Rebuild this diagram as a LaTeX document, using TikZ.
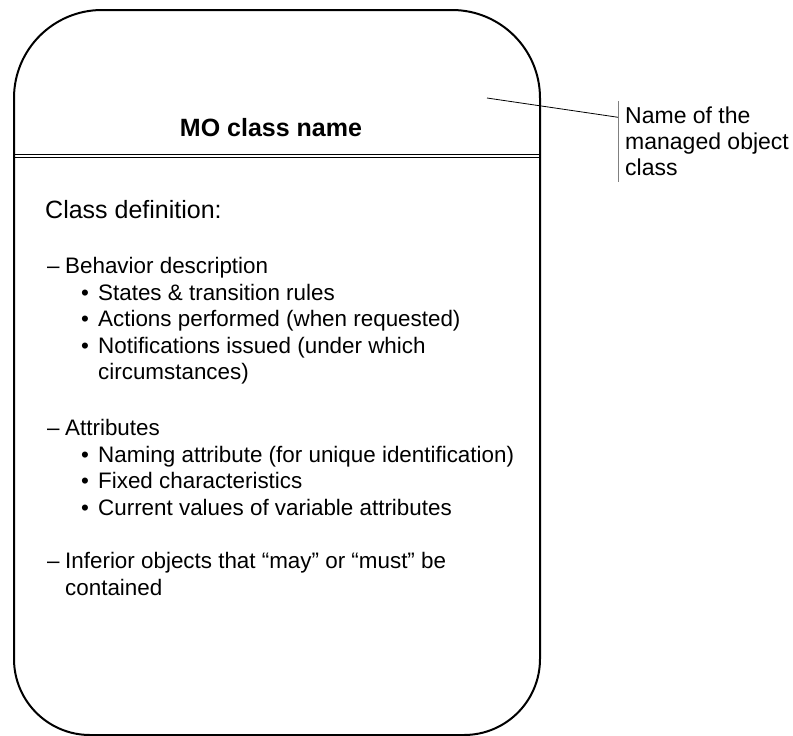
\documentclass[tikz,border=0pt]{standalone}
\usepackage{fontspec}
\setmainfont{Liberation Sans}
\usetikzlibrary{calc,positioning}

\tikzset{
  mobox/.style={line width=2pt},
  divider/.style={double, double distance=2.2pt, line width=1.2pt},
  titletext/.style={font=\fontsize{25}{30}\selectfont\bfseries, inner sep=0pt, anchor=base},
  deftext/.style={font=\fontsize{25}{30}\selectfont, inner sep=0pt, anchor=base west},
  itemtext/.style={font=\fontsize{22.4}{26.6}\selectfont, inner sep=0pt, anchor=base west},
  callouttext/.style={font=\fontsize{23}{26}\selectfont, align=left, inner xsep=7pt, inner ysep=0pt, minimum height=81pt, anchor=north west},
  leader/.style={line width=0.8pt},
  bracket/.style={line width=0.9pt, gray}
}
\newcommand{\dashitem}[1]{\makebox[18pt][l]{–}#1}
\newcommand{\bulletitem}[1]{\makebox[17pt][l]{•}#1}

\begin{document}
\begin{tikzpicture}[x=1pt, y=-1pt]
    \useasboundingbox (0,0) rectangle (793,736);

    % header separator, then the class box
    \draw[divider] (14,155.8) -- (540,155.8);
    \draw[mobox] (14,98) arc[start angle=180, end angle=270, radius=88] -- (452,10)
      arc[start angle=270, end angle=360, radius=88] -- (540,659)
      arc[start angle=0, end angle=90, radius=76] -- (90,735)
      arc[start angle=90, end angle=180, radius=76] -- cycle;

    \node[titletext] (moname) at (271,136) {MO class name};
    \node[deftext] (classdef) at (45,218) {Class definition:};

    % behavior
    \node[itemtext] (behavior) at (47,273) {\dashitem{Behavior description}};
    \node[itemtext] (states) at (81,300) {\bulletitem{States \& transition rules}};
    \node[itemtext] (actions) at (81,326) {\bulletitem{Actions performed (when requested)}};
    \node[itemtext] (notif) at (81,353) {\bulletitem{Notifications issued (under which}};
    \node[itemtext] (notifcont) at (98,379) {circumstances)};

    % attributes
    \node[itemtext] (attrs) at (47,435) {\dashitem{Attributes}};
    \node[itemtext] (naming) at (81,462) {\bulletitem{Naming attribute (for unique identification)}};
    \node[itemtext] (fixed) at (81,488) {\bulletitem{Fixed characteristics}};
    \node[itemtext] (current) at (81,515) {\bulletitem{Current values of variable attributes}};

    % containment
    \node[itemtext] (inferior) at (47,568) {\dashitem{Inferior objects that “may” or “must” be}};
    \node[itemtext] (inferiorcont) at (65,595) {contained};

    % callout
    \coordinate (tip) at (487,98);
    \node[callouttext] (callout) at (618,101) {Name of the\\managed object\\class};
    \draw[bracket] (callout.north west) -- (callout.south west);
    \draw[leader] (tip) -- ($(callout.north west)!0.2!(callout.south west)$);
  \end{tikzpicture}
\end{document}
